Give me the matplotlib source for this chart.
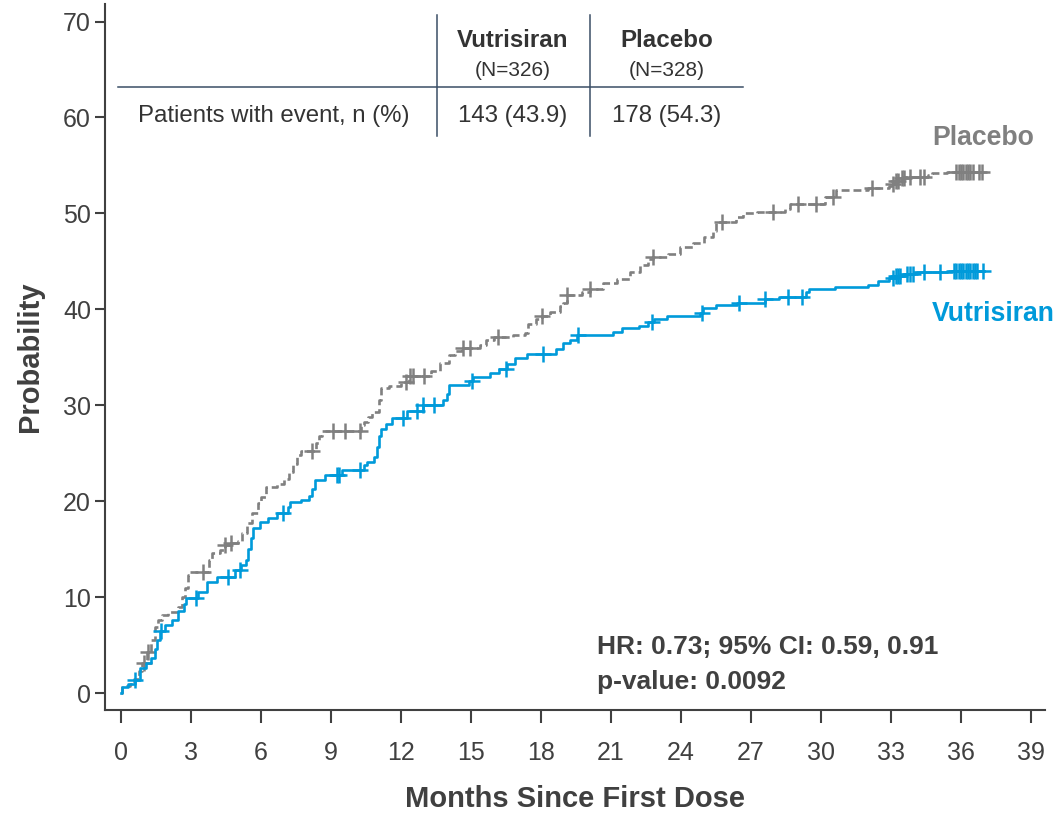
import numpy as np
import matplotlib
matplotlib.use('Agg')
import matplotlib.pyplot as plt

plt.rcParams['font.family'] = ['Liberation Sans', 'DejaVu Sans']

# Vutrisiran cumulative incidence (months, %)
vut_t = [0, 0.05, 0.3, 0.6, 0.8, 1.05, 1.3, 1.45, 1.55, 1.65, 1.9, 2.2, 2.45, 2.7, 2.8,
         3.3, 3.7, 4.1, 4.9, 5.15, 5.35, 5.45, 5.55, 5.65, 5.95, 6.3, 6.7, 7.15, 7.25,
         7.7, 8.05, 8.2, 8.3, 8.75, 9.45, 10.4, 10.55, 10.85, 10.95, 11.05, 11.15, 11.35,
         11.6, 12.25, 12.95, 13.8, 13.95, 14.05, 14.9, 15.1, 15.8, 16.2, 16.55, 16.9, 17.4,
         18.65, 18.95, 19.25, 19.55, 21.1, 21.45, 22.2, 22.6, 22.85, 23.4, 24.8, 24.95,
         25.5, 26.4, 27.6, 28.2, 29.35, 29.5, 30.6, 32.0, 32.45, 32.9, 33.2, 33.55, 34.0,
         35.6, 37.0]
vut_p = [0, 0.6, 0.9, 1.4, 2.6, 3.1, 3.7, 4.6, 5.5, 6.5, 7.1, 7.6, 8.6, 9.3, 9.9,
         10.5, 11.6, 12.1, 12.8, 13.3, 13.9, 15.0, 16.2, 17.2, 17.8, 18.2, 18.75, 19.4, 19.9,
         20.1, 20.5, 21.3, 22.2, 22.7, 23.3, 23.8, 24.1, 24.6, 25.6, 26.8, 27.5, 28.0,
         28.7, 29.4, 30.0, 30.5, 31.2, 32.1, 32.5, 32.9, 33.4, 33.8, 34.3, 34.9, 35.3,
         35.9, 36.5, 36.8, 37.3, 37.6, 38.0, 38.3, 38.7, 39.0, 39.3, 39.6, 40.1,
         40.4, 40.7, 41.1, 41.3, 41.8, 42.1, 42.3, 42.5, 43.0, 43.3, 43.5, 43.7, 43.9,
         44.0, 44.0]
vut_cens = [0.6, 1.7, 3.2, 4.6, 5.1, 6.95, 9.25, 9.35, 10.25, 12.1, 12.7, 12.95, 13.4,
            15.05, 16.5, 18.1, 19.6, 22.75, 24.9, 26.5, 27.6, 28.6, 29.2, 33.1, 33.2,
            33.3, 33.4, 33.7, 33.8, 33.95, 34.4, 35.1, 35.7, 35.8, 35.9, 36.0, 36.1,
            36.2, 36.3, 36.4, 36.5, 36.6, 36.7, 36.95]

# Placebo cumulative incidence (months, %)
pla_t = [0, 0.05, 0.4, 0.55, 0.75, 0.9, 1.1, 1.3, 1.45, 1.6, 1.75, 2.0, 2.45, 2.6, 2.75,
         2.85, 2.95, 3.75, 3.9, 4.25, 4.45, 4.7, 5.0, 5.2, 5.4, 5.6, 5.85, 6.0, 6.2, 6.7,
         7.0, 7.2, 7.35, 7.55, 7.7, 8.35, 8.5, 8.6, 10.3, 10.4, 10.6, 10.75, 11.05, 11.15,
         11.5, 12.0, 12.35, 13.3, 13.65, 14.05, 14.3, 14.6, 15.4, 15.65, 16.0, 16.8, 17.3,
         17.45, 17.8, 18.05, 18.4, 18.8, 18.95, 19.1, 19.75, 20.1, 20.65, 21.25, 21.8,
         22.25, 22.6, 22.8, 23.45, 23.95, 24.5, 25.0, 25.35, 25.5, 26.35, 26.65, 27.25,
         28.45, 28.65, 30.15, 30.65, 32.0, 32.9, 33.05, 33.2, 33.4, 33.6, 34.6, 34.75,
         35.4, 36.95]
pla_p = [0, 0.7, 0.9, 1.5, 2.3, 3.1, 4.3, 5.5, 6.9, 7.6, 8.1, 8.4, 9.0, 10.0, 11.0,
         12.3, 12.6, 13.9, 14.6, 14.9, 15.4, 15.6, 15.9, 16.7, 17.7, 18.75, 19.8, 20.4, 21.5, 21.8,
         22.3, 23.0, 23.9, 24.8, 25.2, 26.1, 26.8, 27.3, 27.9, 28.3, 28.8, 29.3, 30.5, 31.8,
         32.0, 32.4, 33.0, 33.6, 34.4, 35.2, 35.7, 36.0, 36.3, 36.8, 37.1, 37.3, 37.5,
         38.5, 39.0, 39.3, 39.7, 40.3, 40.7, 41.5, 41.8, 42.1, 42.7, 43.2, 43.9,
         44.6, 45.2, 45.5, 45.8, 46.5, 46.9, 47.5, 48.2, 49.1, 49.6, 50.0, 50.1,
         50.5, 51.0, 51.7, 52.4, 52.6, 52.9, 53.1, 53.4, 53.7, 53.8, 54.0, 54.2,
         54.3, 54.3]
pla_cens = [1.0, 1.15, 3.5, 4.45, 4.7, 8.2, 9.1, 9.6, 10.25, 12.2, 12.4, 12.5, 13.0,
            14.65, 14.95, 16.15, 18.05, 19.1, 20.1, 22.8, 25.75, 27.95, 29.0, 29.8, 30.5,
            32.2, 33.1, 33.2, 33.3, 33.45, 33.55, 33.8, 34.25, 34.4, 35.8, 35.9, 36.0,
            36.1, 36.2, 36.3, 36.4, 36.5, 36.75, 36.9]

x_ticks = list(range(0, 40, 3))
y_ticks = list(range(0, 71, 10))

col_vut = '#009ADA'
col_pla = '#808080'
dark = '#404040'
navy = '#3A4E66'


def at(t, p, c):
    t = np.array(t)
    idx = np.searchsorted(t, c, side='right') - 1
    return np.array(p)[idx]


fig = plt.figure(figsize=(10.56, 8.15), dpi=100)
ax = fig.add_axes([0.0994, 0.1288, 0.8902, 0.866])

ax.plot(pla_t, pla_p, drawstyle='steps-post', color=col_pla, lw=1.9, dashes=(3.0, 1.5))
ax.plot(pla_cens, at(pla_t, pla_p, pla_cens), '+', color=col_pla, ms=11, mew=1.8)
ax.plot(vut_t, vut_p, drawstyle='steps-post', color=col_vut, lw=1.9)
ax.plot(vut_cens, at(vut_t, vut_p, vut_cens), '+', color=col_vut, ms=11, mew=1.8)

ax.set_xlim(-0.69, 39.6)
ax.set_ylim(-1.77, 71.8)
ax.set_xticks(x_ticks)
ax.set_yticks(y_ticks)
for s in ['top', 'right']:
    ax.spines[s].set_visible(False)
for s in ['left', 'bottom']:
    ax.spines[s].set_linewidth(1.5)
    ax.spines[s].set_color(dark)
ax.tick_params(axis='x', length=9, width=1.5, color=dark, labelcolor=dark, labelsize=18, pad=13)
ax.tick_params(axis='y', length=7, width=1.5, color=dark, labelcolor=dark, labelsize=18, pad=3)
ax.set_xlabel('Months Since First Dose', fontsize=21, fontweight='bold', color=dark, labelpad=15)
ax.set_ylabel('Probability', fontsize=21, fontweight='bold', color=dark, labelpad=14)

# summary table
ax.plot([-0.13, 26.66], [63.2, 63.2], color=navy, lw=1.1, clip_on=False)
ax.plot([13.54, 13.54], [58.1, 70.7], color=navy, lw=1.1)
ax.plot([20.1, 20.1], [58.1, 70.7], color=navy, lw=1.1)
ax.text(16.8, 68.0, 'Vutrisiran', ha='center', va='center', fontsize=17.4, fontweight='bold', color='#333333')
ax.text(23.4, 68.0, 'Placebo', ha='center', va='center', fontsize=17.4, fontweight='bold', color='#333333')
ax.text(16.8, 64.9, '(N=326)', ha='center', va='center', fontsize=15, color='#333333')
ax.text(23.4, 64.9, '(N=328)', ha='center', va='center', fontsize=15, color='#333333')
ax.text(6.56, 60.2, 'Patients with event, n (%)', ha='center', va='center', fontsize=17.3, color='#333333')
ax.text(16.8, 60.2, '143 (43.9)', ha='center', va='center', fontsize=17.3, color='#333333')
ax.text(23.4, 60.2, '178 (54.3)', ha='center', va='center', fontsize=17.3, color='#333333')

# curve labels
ax.text(34.76, 57.9, 'Placebo', ha='left', va='center', fontsize=19.2, fontweight='bold', color=col_pla)
ax.text(34.76, 39.5, 'Vutrisiran', ha='left', va='center', fontsize=19.2, fontweight='bold', color=col_vut)

ax.text(20.4, 4.8, 'HR: 0.73; 95% CI: 0.59, 0.91', ha='left', va='center', fontsize=19,
        fontweight='bold', color=dark)
ax.text(20.4, 1.15, 'p-value: 0.0092', ha='left', va='center', fontsize=19,
        fontweight='bold', color=dark)

fig.savefig('out.png', dpi=100)
